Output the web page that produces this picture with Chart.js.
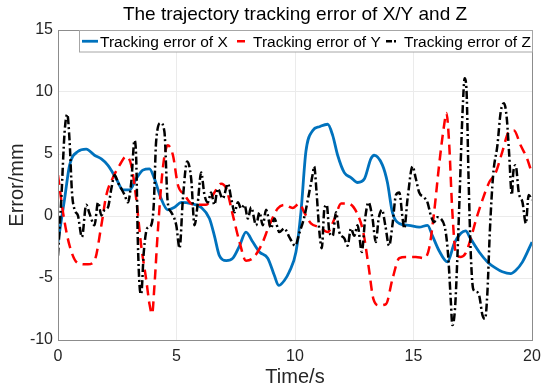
<!DOCTYPE html>
<html>
<head>
<meta charset="utf-8">
<script src="https://cdn.jsdelivr.net/npm/chart.js@4"></script>
<style>
  html, body { margin: 0; padding: 0; background: #fff; }
</style>
</head>
<body>
<canvas id="chart" width="550" height="391"></canvas>
<script>
// error of X (blue, solid)
const xTime = [0, 0.28, 0.49, 0.84, 1.19, 1.54, 1.83, 2.1, 2.46, 2.74,
  3.02, 3.3, 3.58, 3.86, 4.07, 4.35, 4.63, 4.92, 5.2, 5.62,
  6.04, 6.39, 6.6, 6.81, 7.1, 7.38, 7.66, 7.93, 8.22, 8.5,
  8.85, 9.13, 9.31, 9.55, 9.76, 10.04, 10.25, 10.46, 10.75, 11.03,
  11.38, 11.59, 11.8, 12.08, 12.36, 12.64, 12.93, 13.2, 13.34, 13.69,
  13.9, 14.11, 14.4, 14.8, 15.24, 15.59, 15.8, 16.08, 16.43, 16.72,
  17.0, 17.2, 17.4, 17.77, 18.12, 18.47, 18.75, 19.1, 19.31, 19.6, 20];
const xErr = [-2.1, 1.4, 4.1, 5.2, 5.4, 4.9, 4.6, 4.1, 3.0, 2.1,
  2.1, 3.0, 3.7, 3.8, 3.0, 1.4, 0.5, 0.7, 1.1, 1.0,
  0.7, -0.2, -1.6, -3.2, -3.6, -3.4, -2.4, -1.3, -2.1, -2.9,
  -3.4, -4.8, -5.6, -5.2, -4.5, -2.9, 0.3, 5.2, 6.9, 7.2,
  7.4, 6.5, 4.9, 3.5, 3.1, 2.7, 3.0, 4.6, 4.9, 4.1,
  2.7, 0.3, -0.6, -0.75, -0.9, -0.75, -1.6, -2.8, -3.7, -2.2,
  -1.4, -1.2, -1.8, -2.9, -3.7, -4.2, -4.5, -4.65, -4.4, -3.7, -2.1];

// error of Y (red, dashed)
const yTime = [0, 0.21, 0.49, 0.84, 1.26, 1.54, 1.83, 2.04, 2.32, 2.6,
  2.88, 3.09, 3.3, 3.51, 3.72, 3.86, 3.97, 4.07, 4.21, 4.42,
  4.63, 4.85, 5.06, 5.34, 5.62, 5.9, 6.25, 6.6, 6.88, 7.1,
  7.38, 7.66, 7.93, 8.22, 8.57, 8.92, 9.27, 9.55, 9.9, 10.18,
  10.39, 10.67, 11.03, 11.38, 11.67, 11.95, 12.24, 12.6, 12.88, 13.1,
  13.31, 13.55, 13.84, 14.11, 14.4, 14.68, 15.1, 15.45, 15.66, 15.87,
  16.08, 16.29, 16.39, 16.5, 16.64, 16.78, 17.0, 17.2, 17.42, 17.63,
  17.91, 18.19, 18.47, 18.75, 19.03, 19.24, 19.52, 19.8, 20];
const yErr = [3.3, 0.3, -2.4, -3.8, -3.9, -3.6, -0.75, 1.7, 3.1, 4.1,
  4.8, 4.1, 1.4, -2.4, -5.1, -7.1, -7.9, -5.6, -1.3, 3.8,
  5.7, 4.9, 2.5, 1.7, 1.0, 0.9, 0.9, 1.9, 2.6, 2.2,
  0.05, -2.1, -3.6, -3.4, -2.4, -0.75, 0.6, 0.9, 0.65, 1.0,
  0.3, -0.6, -0.9, -1.3, -0.2, 1.0, 1.0, 0.3, -1.3, -4.0,
  -6.7, -7.2, -7.1, -5.1, -3.4, -3.3, -3.3, -3.4, -2.6, 0.3,
  4.1, 7.3, 8.3, 6.0, 0.3, -2.9, -3.3, -3.0, -1.8, -0.35,
  1.3, 2.7, 3.5, 5.2, 6.8, 6.9, 5.7, 4.6, 3.4];

// error of Z (black, dash-dot)
const zTime = [0, 0.14, 0.28, 0.39, 0.49, 0.59, 0.7, 0.84, 1.01, 1.19,
  1.33, 1.54, 1.69, 1.83, 1.97, 2.11, 2.25, 2.39, 2.53, 2.67,
  2.81, 2.95, 3.09, 3.23, 3.3, 3.37, 3.44, 3.51, 3.62, 3.76,
  3.93, 4.04, 4.14, 4.33, 4.49, 4.63, 4.78, 4.99, 5.13, 5.27,
  5.45, 5.62, 5.76, 5.9, 6.04, 6.18, 6.32, 6.46, 6.6, 6.74,
  6.95, 7.17, 7.31, 7.45, 7.59, 7.73, 7.87, 8.01, 8.15, 8.36,
  8.5, 8.64, 8.78, 8.99, 9.13, 9.34, 9.55, 9.76, 10.01, 10.18,
  10.39, 10.6, 10.74, 10.81, 10.91, 11.03, 11.13, 11.24, 11.34, 11.45,
  11.59, 11.73, 11.87, 12.08, 12.22, 12.36, 12.5, 12.64, 12.82, 12.96,
  13.1, 13.27, 13.41, 13.53, 13.67, 13.81, 13.97, 14.11, 14.26, 14.4,
  14.54, 14.61, 14.75, 14.96, 15.1, 15.24, 15.45, 15.59, 15.73, 15.87,
  16.01, 16.15, 16.36, 16.47, 16.57, 16.64, 16.75, 16.85, 16.95, 17.07,
  17.16, 17.24, 17.32, 17.42, 17.52, 17.63, 17.77, 17.91, 18.02, 18.12,
  18.22, 18.36, 18.54, 18.68, 18.82, 18.94, 19.03, 19.15, 19.21, 19.31,
  19.44, 19.6, 19.74, 19.86, 20];
const zErr = [-3.2, 1.4, 6.8, 8.2, 6.0, 1.9, 0.5, 0.05, -1.7, 0.9,
  0.2, -0.75, 1.1, 0.05, 0.5, 0.7, 2.2, 3.3, 2.7, 2.2,
  1.7, 1.1, 2.7, 6.1, 4.6, -2.1, -5.6, -6.3, -2.9, -1.0,
  -0.75, 0.9, 6.0, 7.5, 6.8, 1.1, 0.3, -0.75, -2.6, 1.4,
  4.4, 3.0, -0.75, 1.1, 3.5, 1.7, 1.1, 1.9, 0.9, 2.2,
  1.4, 2.6, 1.4, 0.3, 1.1, 0.6, 0.9, -0.2, 0.7, -0.75,
  0.3, -0.75, 0.5, -1.0, -0.2, -1.3, -1.0, -1.7, -2.4, -1.4,
  -0.1, 1.9, 3.3, 4.0, 1.9, -1.3, -2.6, 0.6, 0.9, -1.3,
  -1.6, 0.3, -1.3, -1.8, -2.4, -1.0, -1.6, -0.75, -2.9, -0.2,
  1.1, -0.2, -2.1, -0.2, 0.5, -0.75, -2.4, -0.75, 1.7, 1.9,
  -0.2, -1.0, 1.4, 4.0, 3.0, 1.9, 1.5, 1.1, 0.05, -0.5,
  -0.1, -0.2, -1.3, -3.4, -6.7, -8.8, -7.5, -3.4, 1.9, 8.4,
  11.1, 10.0, 3.3, -3.2, -5.9, -6.1, -6.4, -8.0, -8.3, -6.1,
  -1.3, 3.3, 5.7, 8.4, 9.1, 7.8, 5.2, 1.7, 3.5, 4.1,
  1.9, 1.1, -0.6, 1.7, 1.3];

const labels = ['Tracking error of X', 'Tracking error of Y', 'Tracking error of Z'];
const xTicks = [0, 5, 10, 15, 20];
const yTicks = [-10, -5, 0, 5, 10, 15];

const FONT = "'Liberation Sans', Arial, sans-serif";
const toPoints = (ts, vs) => ts.map((t, i) => ({ x: t, y: vs[i] }));

// matlab style box around the axes
const axesBox = {
  id: 'axesBox',
  afterDatasetsDraw(chart) {
    const { ctx, chartArea: a } = chart;
    ctx.save();
    ctx.strokeStyle = '#8c8c8c';
    ctx.lineWidth = 1;
    ctx.strokeRect(Math.round(a.left) + 0.5, Math.round(a.top) + 0.5,
      Math.round(a.right - a.left), Math.round(a.bottom - a.top));
    ctx.restore();
  }
};

// short legend samples, dash centred like matlab does it
const sampleDash = [[], [8, 30], [6, 2, 2, 30]];
const sampleOffset = [0, -4, -2];

// horizontal legend along the top of the plot, equal width entries
const topLegend = {
  id: 'topLegend',
  afterDraw(chart) {
    const { ctx, chartArea: a } = chart;
    ctx.save();
    ctx.font = '15.5px ' + FONT;
    const boxLeft = 79.5, boxTop = Math.round(a.top) + 0.5, boxH = 21.5;
    const boxRight = Math.round(a.right) + 0.5;
    const itemW = (boxRight - boxLeft) / 3;
    ctx.fillStyle = '#fff';
    ctx.fillRect(boxLeft, boxTop, boxRight - boxLeft, boxH);
    ctx.strokeStyle = '#a6a6a6';
    ctx.lineWidth = 1;
    ctx.strokeRect(boxLeft, boxTop, boxRight - boxLeft, boxH);
    const cy = boxTop + boxH / 2;
    chart.data.datasets.forEach((ds, i) => {
      const x0 = boxLeft + i * itemW + 2.5;
      ctx.strokeStyle = ds.borderColor;
      ctx.lineWidth = ds.borderWidth;
      ctx.setLineDash(sampleDash[i]);
      ctx.lineDashOffset = sampleOffset[i];
      ctx.beginPath();
      ctx.moveTo(x0, cy);
      ctx.lineTo(x0 + 16, cy);
      ctx.stroke();
      ctx.setLineDash([]);
      ctx.fillStyle = '#000';
      ctx.textBaseline = 'middle';
      ctx.fillText(ds.label, x0 + 18 + (i ? 2 : 0), cy + 1);
    });
    ctx.restore();
  }
};

new Chart(document.getElementById('chart'), {
  type: 'line',
  data: {
    datasets: [
      {
        label: labels[0], data: toPoints(xTime, xErr),
        borderColor: '#0072BD', borderWidth: 2.8, order: 2
      },
      {
        label: labels[1], data: toPoints(yTime, yErr),
        borderColor: '#FF0000', borderWidth: 2.5, borderDash: [10, 6], order: 1
      },
      {
        label: labels[2], data: toPoints(zTime, zErr),
        borderColor: '#000000', borderWidth: 2.5, borderDash: [8, 3, 2, 3], order: 0
      }
    ]
  },
  options: {
    responsive: false,
    devicePixelRatio: 1,
    animation: false,
    layout: { padding: { right: 18 } },
    elements: {
      point: { radius: 0 },
      line: { cubicInterpolationMode: 'monotone', fill: false }
    },
    plugins: {
      legend: { display: false },
      tooltip: { enabled: false },
      title: {
        display: true,
        fullSize: false,
        text: 'The trajectory tracking error of X/Y and Z',
        color: '#000',
        font: { family: FONT, size: 19, weight: 'normal' },
        padding: { top: 3, bottom: 4.2 }
      }
    },
    scales: {
      x: {
        type: 'linear', min: 0, max: 20,
        afterFit: s => { s.height = 51; },
        afterBuildTicks: s => { s.ticks = xTicks.map(v => ({ value: v })); },
        ticks: { color: '#262626', font: { family: FONT, size: 16 }, padding: 7, maxRotation: 0 },
        grid: { color: '#ebebeb', drawTicks: false },
        border: { color: '#8c8c8c' },
        title: {
          display: true, text: 'Time/s', color: '#262626',
          font: { family: FONT, size: 20 }, padding: { top: 0, bottom: 2 }
        }
      },
      y: {
        type: 'linear', min: -10, max: 15,
        afterFit: s => { s.width = 58; },
        afterBuildTicks: s => { s.ticks = yTicks.map(v => ({ value: v })); },
        ticks: { color: '#262626', font: { family: FONT, size: 16 }, padding: 5 },
        grid: { color: '#ebebeb', drawTicks: false },
        border: { color: '#8c8c8c' },
        title: {
          display: true, text: 'Error/mm', color: '#262626',
          font: { family: FONT, size: 20 }, padding: { top: 5, bottom: 0 }
        }
      }
    }
  },
  plugins: [axesBox, topLegend]
});
</script>
</body>
</html>
